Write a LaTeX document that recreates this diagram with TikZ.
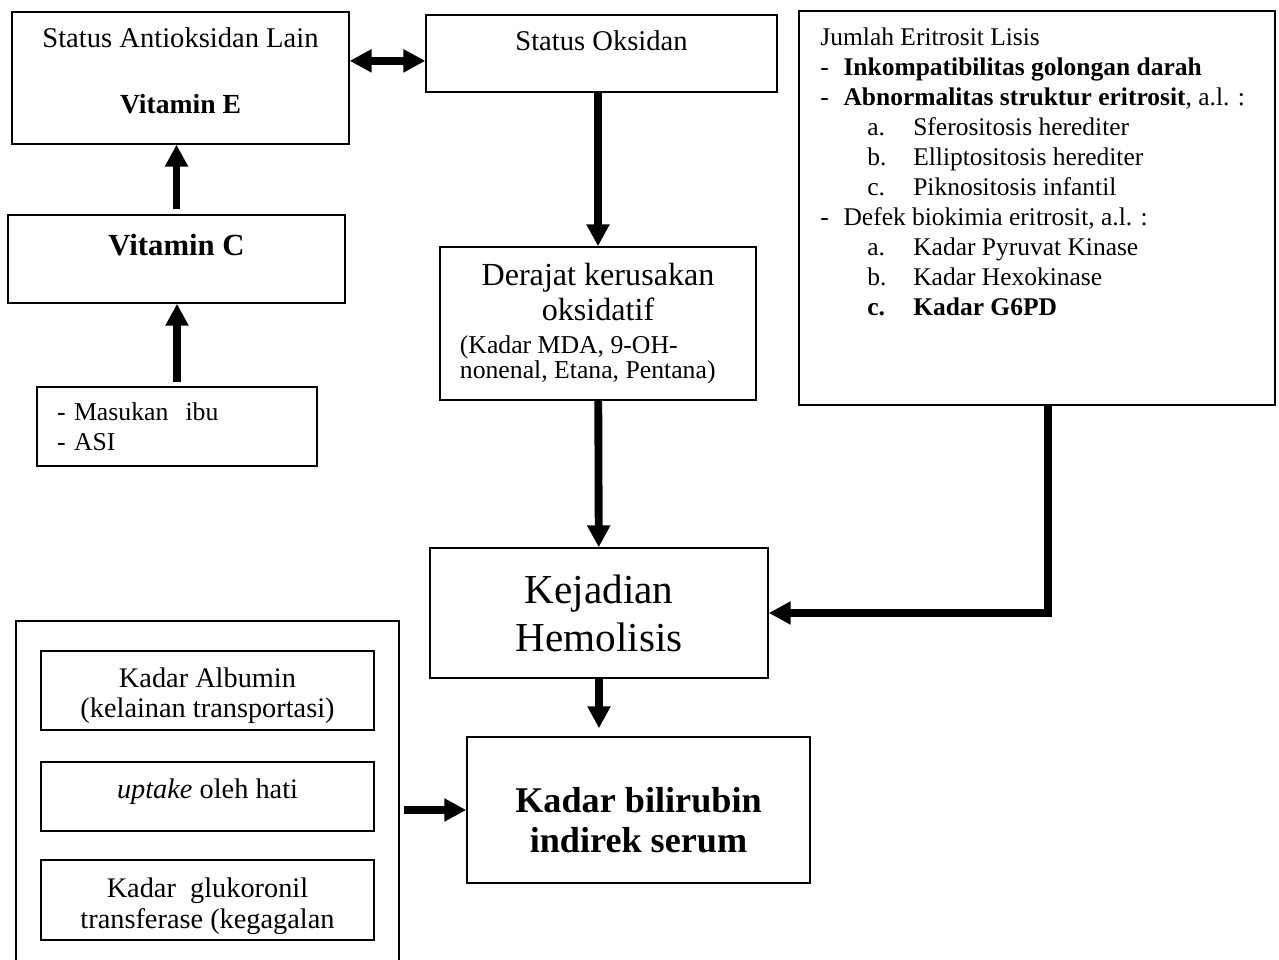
\documentclass[tikz,border=0pt]{standalone}
\usepackage{fontspec}
\setmainfont{Liberation Serif}
\usetikzlibrary{arrows.meta}

\newcommand{\lisisitem}[2]{\hspace*{19.7pt}\makebox[19.3pt][l]{#1}#2}
\newcommand{\lisisdash}{\makebox[9.7pt][l]{-}}

\begin{document}
\begin{tikzpicture}[
  x=0.42pt,y=-0.42pt,
  box/.style={draw,line width=0.6pt,align=center,inner sep=2pt},
  arrow/.style={-{Triangle[length=9.2pt,width=9.2pt]},line width=3.3pt}
]
\path[use as bounding box,clip] (0,0) rectangle (1279,960);

% antioksidan side
\node[box,minimum width=141.5pt,minimum height=55.4pt,
  font=\fontsize{12}{14}\selectfont] (anti) at (180.5,78)
  {Status Antioksidan Lain\\[14pt]\textbf{\fontsize{11.6}{14}\selectfont
  Vitamin E}\rule[-6.1pt]{0pt}{0pt}};
\node[box,minimum width=141.5pt,minimum height=37pt,text depth=12.1pt,
  font=\fontsize{12.9}{15}\selectfont\bfseries] (vitc) at (176.5,259) {Vitamin C};
\node[box,minimum width=117.6pt,minimum height=33.2pt,text width=100.8pt,
  align=left,font=\fontsize{10.8}{12.6}\selectfont] (intake) at (177,426.5)
  {- Masukan\ \ ibu\\- ASI};

% oksidan side
\node[box,minimum width=147.4pt,minimum height=32.3pt,text depth=11.1pt,
  font=\fontsize{12}{14}\selectfont] (oks) at (601.5,53.5) {Status Oksidan};
\node[box,minimum width=132.7pt,minimum height=64.3pt,
  font=\fontsize{13.5}{14.7}\selectfont] (derajat) at (598,323.5)
  {Derajat kerusakan\\oksidatif\\[-0.8pt]\parbox[t]{116pt}{\fontsize{10.8}{10.5}%
  \selectfont\lineskiplimit=-5pt (Kadar MDA, 9-OH-\\nonenal, Etana, Pentana)}};

% eritrosit lisis
\node[box,minimum width=199.9pt,minimum height=165.5pt] (lisis) at (1037,208) {};
\node[anchor=north west,inner sep=0pt,align=left,
  font=\fontsize{10.7}{12.6}\selectfont] (lisistext) at (820,27.7)
  {Jumlah Eritrosit Lisis\\
  \lisisdash\textbf{Inkompatibilitas golongan darah}\\
  \lisisdash\textbf{Abnormalitas struktur eritrosit}, a.l. :\\
  \lisisitem{a.}{Sferositosis herediter}\\
  \lisisitem{b.}{Elliptositosis herediter}\\
  \lisisitem{c.}{Piknositosis infantil}\\
  \lisisdash Defek biokimia eritrosit, a.l. :\\
  \lisisitem{a.}{Kadar Pyruvat Kinase}\\
  \lisisitem{b.}{Kadar Hexokinase}\\
  \lisisitem{\textbf{c.}}{\textbf{Kadar G6PD}}};

% hemolisis and bilirubin
\node[box,minimum width=142pt,minimum height=54.6pt,
  font=\fontsize{17.3}{20.2}\selectfont] (hemolisis) at (599,613)
  {Kejadian\\Hemolisis};
\node[box,minimum width=144.1pt,minimum height=61.3pt,
  font=\fontsize{15.2}{16.8}\selectfont\bfseries] (bili) at (638.5,810)
  {\rule{0pt}{19.3pt}Kadar bilirubin\\indirek serum};

% hati
\node[box,minimum width=160.9pt,minimum height=158.8pt] (hati) at (207.5,810) {};
\node[box,minimum width=139.9pt,minimum height=33.2pt,
  font=\fontsize{11.9}{13}\selectfont] (albumin) at (207.5,690.5)
  {\rule{0pt}{12.6pt}Kadar Albumin\\(kelainan transportasi)};
\node[box,minimum width=139.9pt,minimum height=29pt,text depth=6.8pt,
  font=\fontsize{11.9}{13}\selectfont] (uptake) at (207.5,796.5)
  {\textit{uptake} oleh hati};
\node[box,minimum width=139.9pt,minimum height=33.6pt,
  font=\fontsize{11.9}{13}\selectfont] (glukoronil) at (207.5,900)
  {\rule{0pt}{13.1pt}Kadar\ \ glukoronil\\transferase (kegagalan};

% connectors
\coordinate (oxlink) at ([yshift=-3.1pt]oks.west);
\draw[arrow,shorten <=1.7pt] (intake) -- (intake |- vitc.south);
\draw[arrow,shorten <=2pt] (vitc) -- (vitc |- anti.south);
\draw[line width=3.3pt,{Triangle[length=9.2pt,width=9.2pt]}-{Triangle[length=9.2pt,width=9.2pt]}]
  (anti.east |- oxlink) -- (oxlink);
\draw[arrow] (oks.south -| derajat) -- (derajat);
\draw[arrow] (derajat) -- (hemolisis);
\draw[arrow] ([xshift=4.6pt]lisis.south) |- (hemolisis);
\draw[arrow,shorten >=3.4pt] (hemolisis) -- (hemolisis |- bili.north);
\draw[arrow,shorten <=1.7pt] (hati) -- (bili);
\end{tikzpicture}
\end{document}
